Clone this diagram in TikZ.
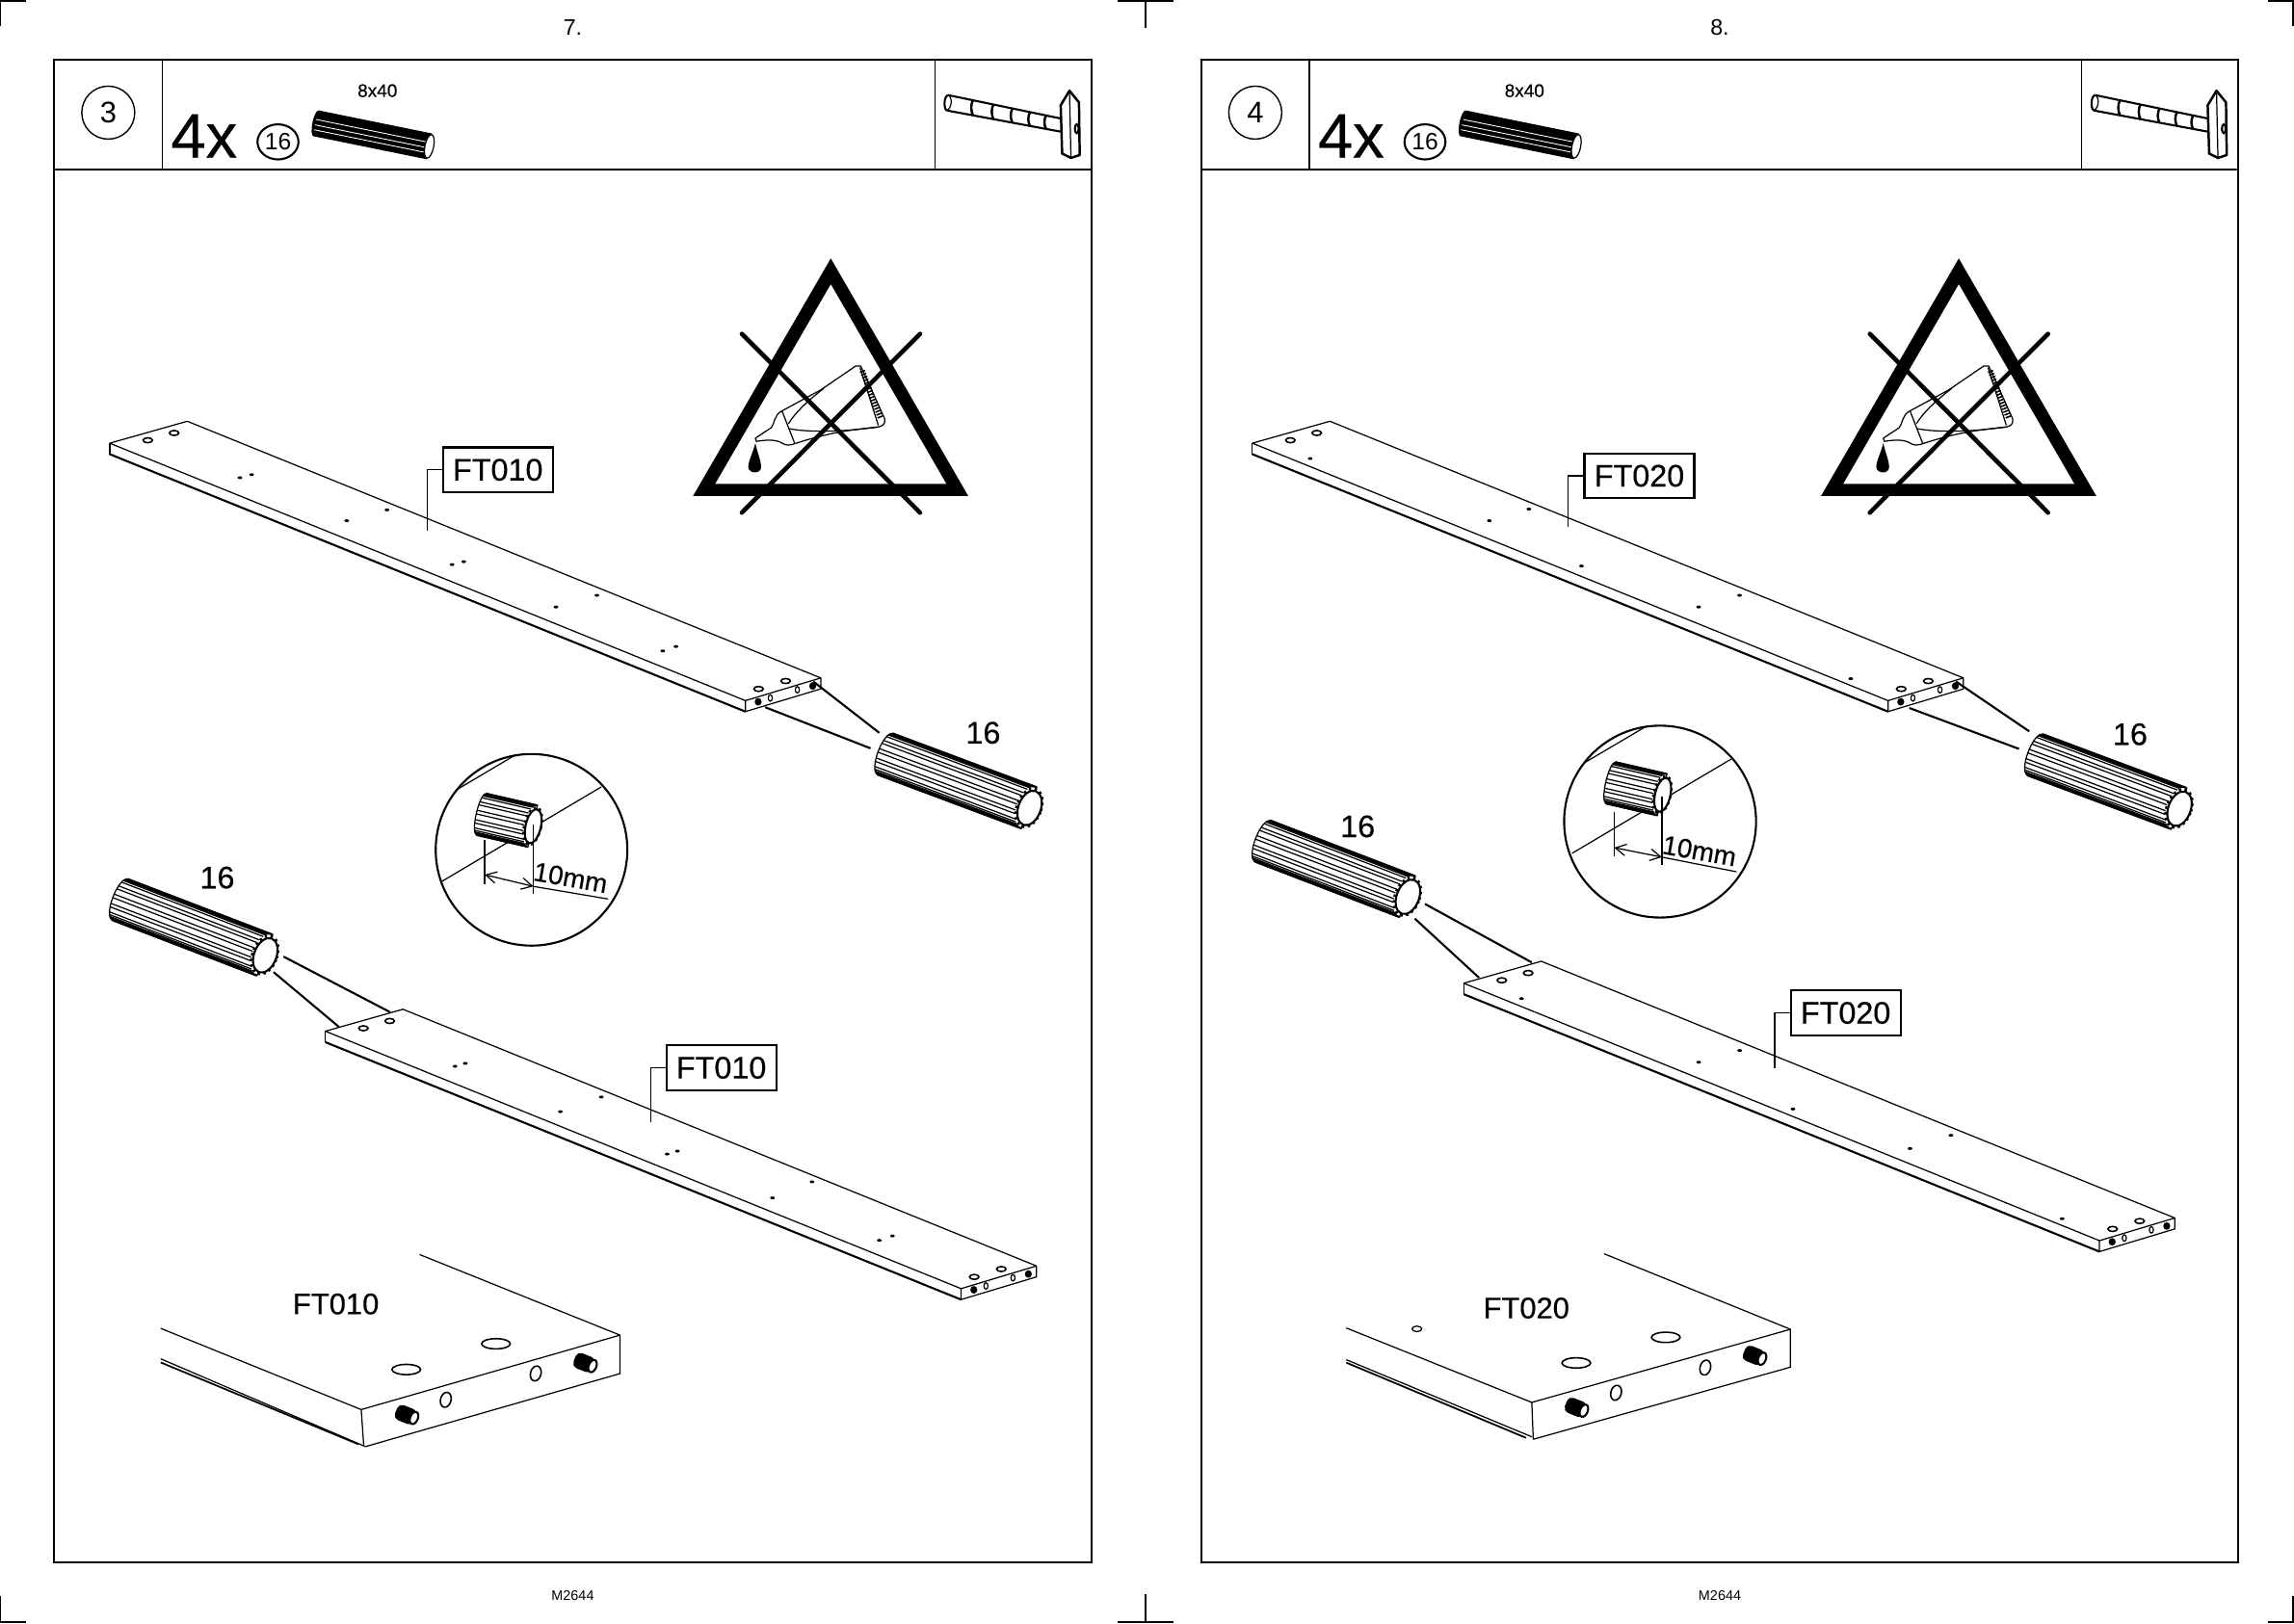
\documentclass[tikz,border=0pt]{standalone}
\usepackage{fontspec}
\setmainfont{Liberation Sans}
\newfontfamily\heavy[FakeBold=0.4]{Liberation Sans}
\usetikzlibrary{arrows.meta,calc}
\newcommand\fsz[1]{\fontsize{#1}{#1}\selectfont}
\tikzset{
  thin line/.style={line width=.35pt},
  mid line/.style={line width=.6pt},
  pagenum/.style={inner sep=0,font=\fsz{6.6}},
  stepnum/.style={circle,draw,line width=.4pt,inner sep=0,minimum size=5.5mm,font=\fsz{8.8}},
  qty/.style={inner sep=0,font=\heavy\fsz{18.5}},
  sizetxt/.style={inner sep=0,font=\heavy\fsz{5.4}},
  partnum/.style={inner sep=0,font=\fsz{7}},
  callout/.style={inner sep=0,font=\heavy\fsz{9.2}},
  partbox/.style={draw,mid line,fill=white,inner sep=0,minimum width=11.4mm,minimum height=4.65mm,font=\heavy\fsz{9.2}},
  biglabel/.style={inner sep=0,font=\heavy\fsz{8.8}},
  dimtxt/.style={inner sep=0,font=\heavy\fsz{7.9}},
  dimarrow/.style={thin line,{Straight Barb[length=1.1mm,width=1.2mm]}-{Straight Barb[length=1.1mm,width=1.2mm]}},
  crossbar/.style={line width=1.3pt,line cap=round},
}
% dowel: x y angle length radius endrx
\newcommand\dowel[6]{%
\begin{scope}[shift={(#1,#2)},rotate=#3]
  \fill[white,draw=black,thin line] (0,-#5) -- (#4,-#5) -- (#4,#5) -- (0,#5) arc[start angle=90,end angle=270,x radius=#6*.6,y radius=#5] -- cycle;
  \foreach \a in {-84,-78,-72,-66,-60,-50,-34,-24,-8,2,18,28,44,54,62,68,74,80,85}
    \draw[thin line] ({-#6*.6*cos(\a)},{#5*sin(\a)}) -- ({#4-#6*cos(\a)},{#5*sin(\a)});
  \draw[mid line] (0,-#5) -- (#4,-#5);
  \draw[mid line] (0,#5) -- (#4,#5);
  \draw[line width=.8pt,dash pattern=on .7pt off 1pt] (#4,0) ellipse[x radius=#6*.98,y radius=#5*.9];
  \filldraw[fill=white,mid line] (#4+.4,0) ellipse[x radius=#6*.9,y radius=#5*.82];
\end{scope}}
% header dowel
\newcommand\hdowel[2]{%
\begin{scope}[shift={(#1,#2)},rotate=11.5]
  \fill (-1,-9) -- (78,-9) -- (78,9) -- (-1,9) arc[start angle=90,end angle=270,x radius=2.5,y radius=9] -- cycle;
  \foreach \o in {-2.6,1.2,4.6} \draw[white,line width=.25pt] (-1.5,\o) -- (75,\o);
  \filldraw[fill=white,thin line] (78,0) ellipse[x radius=3,y radius=8.2];
\end{scope}}
% plank: near-left corner, dot list
\newcommand\plank[3]{%
\begin{scope}[shift={(#1,#2)}]
  \draw[thin line,line join=round] (0,0) -- (53,-15) -- (486,160.5) -- (434.5,176) -- cycle;
  \draw[thin line] (0,0) -- (0,7.5);
  \draw[thin line] (434.5,176) -- (434.5,183.5) -- (486,168) -- (486,160.5);
  \draw[mid line] (0,7.5) -- (434.5,183.5);
  \foreach \p/\q in {26/-2,44/-7,443.5/168,462/162.6}
    \draw[line width=.45pt] (\p,\q) ellipse[x radius=3.2,y radius=1.7];
  \foreach \p/\q in {451.5/174.2,470/168.6}
    \draw[thin line] (\p,\q) ellipse[x radius=1.4,y radius=2.2];
  \foreach \p/\q in {443.2/176.8,480.5/166}
    \fill (\p,\q) ellipse[x radius=2.4,y radius=2.6];
  \foreach \p/\q in {#3}
    \fill (\p,\q) ellipse[x radius=1.6,y radius=1];
\end{scope}}
% glue warning sign
\newcommand\gluesign[2]{%
\begin{scope}[shift={(#1,#2)},scale=.2195]
  \fill[even odd rule] (547,85) -- (975,825) -- (118,825) -- cycle (547,165) -- (187,787) -- (907,787) -- cycle;
  \draw[thin line,line join=round] (312,645) -- (362,612) .. controls (372,600) and (370,572) .. (395,560) -- (515,495) -- (625,420) -- (640,420) -- (715,585) .. controls (718,600) and (708,608) .. (695,610) .. controls (600,620) and (540,628) .. (435,662) .. controls (420,668) and (405,668) .. (395,660) .. controls (375,648) and (345,650) .. (315,655) -- cycle;
  \draw[thin line] (395,560) -- (435,662);
  \draw[thin line] (415,600) .. controls (440,560) and (480,525) .. (525,490);
  \draw[thin line] (415,615) .. controls (480,628) and (590,625) .. (695,610);
  \draw[line width=1.6pt,dash pattern=on .45pt off .45pt] (645,435) -- (703,585);
  \draw[thin line] (638,425) -- (695,605);
  \fill (312,660) .. controls (305,690) and (290,715) .. (290,735) .. controls (292,757) and (330,757) .. (330,735) .. controls (330,715) and (318,690) .. (312,660) -- cycle;
  \draw[crossbar] (270,320) -- (825,877);
  \draw[crossbar] (825,320) -- (270,877);
\end{scope}}
% hammer
\newcommand\hammer{%
  \draw[mid line] (648,65) -- (725,81);
  \draw[mid line] (647,75.5) -- (725,90);
  \draw[mid line] (648,65) .. controls (645,66) and (645,74) .. (647,75.5);
  \draw[thin line] (648,65) .. controls (651,66) and (651,74) .. (647,75.5);
  \foreach \x in {665,679,692,704,715}
    \draw[line width=.7pt] (\x,{65+(\x-648)*.208}) .. controls (\x-1.5,{68+(\x-648)*.208}) and (\x-1.5,{72+(\x-648)*.2}) .. (\x,{75.5+(\x-647)*.186});
  \filldraw[fill=white,line width=.7pt,line join=round] (725,72) -- (731,62) -- (737.5,70) -- (738,106) -- (732,108) -- (726,105) -- cycle;
  \draw[thin line] (731,62) -- (732,108);
  \draw[line width=.6pt] (736,88) ellipse[x radius=1.3,y radius=3];
}
% one page skeleton
\newcommand\pageframe[4]{%
\begin{scope}[shift={(#4,0)}]
  \draw[mid line] (37,41) rectangle (746,1068);
  \draw[mid line] (37,116) -- (746,116);
  \draw[thin line] (111,41) -- (111,116);
  \draw[thin line] (639,41) -- (639,116);
  \node[pagenum] (#1page) at (391.5,18.5) {#2.};
  \node[pagenum,font=\fsz{4.1}] (#1code) at (391.5,1091) {M2644};
  \node[stepnum] (#1step) at (74,77) {#3};
  \node[qty] (#1qty) at (139.5,93) {4x};
  \draw[mid line] (190,97) ellipse[x radius=14,y radius=12];
  \node[partnum] (#1circ) at (190,97) {16};
  \node[sizetxt] (#1size) at (258,62) {8x40};
  \hdowel{217}{84.5}
  \hammer
\end{scope}}
\newcommand\stud[2]{%
\begin{scope}[shift={(#1,#2)},rotate=22]
  \fill[rounded corners=1.5pt] (-8,-5.5) rectangle (6,5.5);
  \filldraw[fill=white,mid line] (5.2,0) ellipse[x radius=2.6,y radius=4.4];
\end{scope}}
\newcommand\facehole[2]{\draw[line width=.45pt,rotate around={15:(#1,#2)}] (#1,#2) ellipse[x radius=3.6,y radius=5.2];}
\newcommand\tophole[2]{\draw[line width=.45pt] (#1,#2) ellipse[x radius=9.8,y radius=3.5];}
\begin{document}
\begin{tikzpicture}[x=0.15185mm,y=0.15185mm,yscale=-1]
\useasboundingbox (0,0) rectangle (1568,1109.66);
% crop marks
\draw[mid line] (0,18) -- (0,.4) -- (18,.4);
\draw[mid line] (764,.4) -- (802,.4);
\draw[line width=.7pt] (783,0) -- (783,19);
\draw[mid line] (1550,.4) -- (1568,.4);
\draw[mid line] (1567.6,0) -- (1567.6,18);
\draw[mid line] (0,1091) -- (0,1109.2) -- (18,1109.2);
\draw[mid line] (764,1109.2) -- (802,1109.2);
\draw[line width=.7pt] (783,1090) -- (783,1109);
\draw[mid line] (1550,1109.2) -- (1567.6,1109.2) -- (1567.6,1091);

\pageframe{a}{7}{3}{0}
\pageframe{b}{8}{4}{784}

\gluesign{447.8}{158}
\gluesign{1218.8}{158}

% ---------- page 7 ----------
\plank{75}{303}{89/23.6,97/21.5,162/53,189.5/45.6,234/83,242/81,305/112,333/104,378/142,387/139}
\coordinate (a1leg) at (292,363);
\node[partbox] (a1box) at (340.3,321.2) {FT010};
\draw[thin line] (a1box.west) -| (a1leg);
\coordinate (a1s) at (523,483.5); \coordinate (a1e) at (595,511.6);
\coordinate (a2s) at (556,466); \coordinate (a2e) at (601,501);
\draw[mid line] (a1s) -- (a1e);
\draw[mid line] (a2s) -- (a2e);
\dowel{605}{515.5}{20.5}{105}{15}{8.5}
\node[callout] (a16r) at (672,501) {16};

\plank{222.4}{705}{88.6/24,95.6/22,160.6/55,188.6/45,233.6/84,240.6/82,305.6/114,332.6/103,378.6/143,387.6/140}
\coordinate (a3leg) at (445,767);
\node[partbox] (a3box) at (493,730) {FT010};
\draw[thin line] (a3box.west) -| (a3leg);
\coordinate (a3s) at (266.7,692); \coordinate (a3e) at (193.8,654);
\coordinate (a4s) at (231.6,702); \coordinate (a4e) at (187,664.6);
\draw[mid line] (a3s) -- (a3e);
\draw[mid line] (a4s) -- (a4e);
\dowel{82}{615}{21}{106}{15}{8.5}
\node[callout] (a16l) at (148.5,600) {16};

% detail circle page 7
\draw[mid line] (363.3,581) circle[radius=65.5];
\draw[thin line] (302,602.6) -- (411,538);
\draw[thin line] (312,540) -- (352.5,516);
\dowel{329}{556.7}{13}{36}{14.5}{5.8}
\draw[thin line] (331.3,574) -- (331.3,604.6);
\draw[thin line] (364.6,564) -- (364.6,611);
\draw[dimarrow] (331.3,598) -- (364.6,606);
\draw[thin line] (364.6,606) -- (415.6,614.6);
\node[dimtxt,rotate=-10] (atxt) at (390,600) {10mm};

% bottom detail page 7
\draw[thin line] (286.8,857.7) -- (423.8,912.8) -- (423.8,939.1) -- (249.8,989);
\draw[thin line] (109.9,908.2) -- (246.9,963.7) -- (423.8,912.8);
\draw[thin line] (246.9,963.7) -- (248.6,988);
\draw[thin line] (109.9,929) -- (249.8,989);
\draw[line width=.5pt] (109.9,931.5) -- (245,987.4);
\tophole{277.7}{936.3}
\tophole{339}{918.7}
\facehole{304.7}{957}
\facehole{366.2}{939}
\stud{278.2}{967.5}
\stud{400.2}{932}
\node[biglabel] (albl) at (229.6,891.5) {FT010};

% ---------- page 8 ----------
\plank{856}{303}{39.5/10.5,162/53,189/45,225/84,305/112,333/104,409/161}
\coordinate (b1leg) at (1072,360);
\node[partbox] (b1box) at (1120.5,325.3) {FT020};
\draw[thin line] (b1box.west) -| (b1leg);
\coordinate (b1s) at (1305,484); \coordinate (b1e) at (1380,512);
\coordinate (b2s) at (1337,466); \coordinate (b2e) at (1387,500);
\draw[mid line] (b1s) -- (b1e);
\draw[mid line] (b2s) -- (b2e);
\dowel{1391}{516}{20.5}{105}{15}{8.5}
\node[callout] (b16r) at (1456,502) {16};

\plank{1000.5}{672.2}{39.5/10.5,160.6/54,188.6/46,225/86,305/113,333/104,409/161}
\coordinate (b3leg) at (1213,730);
\node[partbox] (b3box) at (1261.5,692.5) {FT020};
\draw[thin line] (b3box.west) -| (b3leg);
\coordinate (b3s) at (1047,658); \coordinate (b3e) at (974,618);
\coordinate (b4s) at (1010.9,668.4); \coordinate (b4e) at (967,628);
\draw[mid line] (b3s) -- (b3e);
\draw[mid line] (b4s) -- (b4e);
\dowel{863}{575}{21}{106}{15}{8.5}
\node[callout] (b16l) at (928,565) {16};

% detail circle page 8
\draw[mid line] (1134.7,561.7) circle[radius=65.6];
\draw[thin line] (1074.5,583.4) -- (1183.2,519);
\draw[thin line] (1083.3,521.3) -- (1125,496.7);
\dowel{1101}{535.2}{13}{36}{14.5}{5.8}
\draw[thin line] (1103.3,555.3) -- (1103.3,585.6);
\draw[thin line] (1136,544.4) -- (1136,591.5);
\draw[dimarrow] (1103.3,579.5) -- (1136,586);
\draw[thin line] (1136,586) -- (1186.9,596);
\node[dimtxt,rotate=-10] (btxt) at (1161.6,581.7) {10mm};

% bottom detail page 8
\draw[thin line] (1096.5,857.2) -- (1223.8,908.8) -- (1223.8,934.7) -- (1048,984);
\draw[thin line] (920.2,907.9) -- (1047,958.8) -- (1223.8,908.8);
\draw[thin line] (1047,958.8) -- (1048,984);
\draw[thin line] (920.2,929.6) -- (1047,982.3);
\draw[line width=.5pt] (920.2,931.6) -- (1043,983);
\tophole{1077.4}{931.8}
\tophole{1138.6}{914.3}
\draw[thin line] (968.5,908.5) ellipse[x radius=3.3,y radius=1.9];
\facehole{1104.6}{952.2}
\facehole{1165.6}{935}
\stud{1077.8}{962.5}
\stud{1199.6}{927}
\node[biglabel] (blbl) at (1043.3,894.3) {FT020};
\end{tikzpicture}
\end{document}
